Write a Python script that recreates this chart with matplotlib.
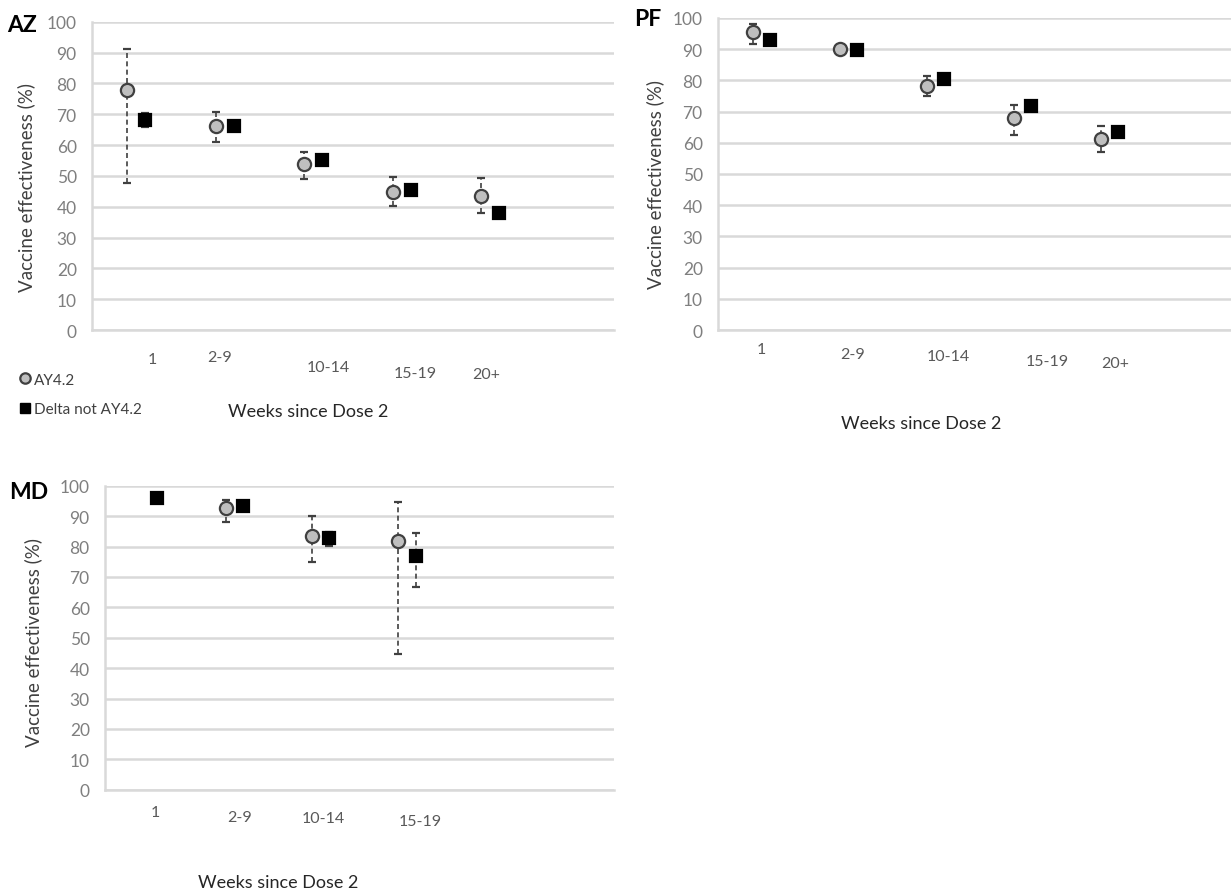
import numpy as np
import matplotlib
matplotlib.use("Agg")
import matplotlib.pyplot as plt
from matplotlib.lines import Line2D

plt.rcParams["font.family"] = ["Lato", "DejaVu Sans"]

# ---- data ----
weeks5 = ["1", "2-9", "10-14", "15-19", "20+"]
weeks4 = ["1", "2-9", "10-14", "15-19"]

az_ay_ve = [77.9, 66.1, 53.7, 44.9, 43.6]
az_ay_lo = [47.8, 61.0, 49.1, 40.2, 38.1]
az_ay_hi = [91.2, 70.6, 57.7, 49.7, 49.4]
az_dl_ve = [68.0, 66.2, 55.3, 45.5, 38.1]
az_dl_lo = [66.0, 65.2, 54.4, 44.6, 37.2]
az_dl_hi = [70.5, 67.2, 56.2, 46.4, 39.0]

pf_ay_ve = [95.4, 90.1, 78.1, 67.8, 61.2]
pf_ay_lo = [91.7, 89.2, 74.9, 62.5, 57.0]
pf_ay_hi = [98.1, 90.9, 81.3, 72.1, 65.5]
pf_dl_ve = [93.0, 89.8, 80.4, 71.9, 63.6]
pf_dl_lo = [92.5, 89.5, 79.9, 71.3, 62.8]
pf_dl_hi = [93.5, 90.1, 80.9, 72.5, 64.4]

md_ay_ve = [np.nan, 92.6, 83.6, 81.9]
md_ay_lo = [np.nan, 88.2, 74.8, 44.6]
md_ay_hi = [np.nan, 95.4, 89.9, 94.5]
md_dl_ve = [95.9, 93.4, 82.8, 77.0]
md_dl_lo = [95.3, 92.8, 80.1, 66.6]
md_dl_hi = [96.6, 94.0, 84.7, 84.4]

GRID = "#D9D9D9"
ERR = "#404040"
W, H = 1231, 895

fig = plt.figure(figsize=(12.31, 8.95), dpi=100)
fig.patch.set_facecolor("white")


def px_axes(left, right, top, bottom):
    return fig.add_axes([left / W, 1 - bottom / H, (right - left) / W, (bottom - top) / H])


def series(ax, x, ve, lo, hi, marker, face, edge, ms):
    ve = np.asarray(ve, float)
    yerr = [ve - np.asarray(lo, float), np.asarray(hi, float) - ve]
    eb = ax.errorbar(x, ve, yerr=yerr, fmt=marker, ms=ms, mfc=face, mec=edge, mew=1.6,
                     ecolor=ERR, elinewidth=1.2, capsize=3, capthick=1.2, zorder=3)
    eb[2][0].set_linestyle((0, (3, 2)))
    return eb


def panel(ax, cats, ay, dl, offs, ylab_xy):
    x = np.arange(len(cats))
    series(ax, x - 0.1, *ay, "o", "#BFBFBF", "#404040", 9.5)
    series(ax, x + 0.1, *dl, "s", "black", "black", 8)
    ax.set_xlim(-0.5, 5.4)
    ax.set_ylim(0, 100)
    ax.set_yticks(range(0, 101, 10))
    ax.set_xticks([])
    ax.grid(axis="y", color=GRID, lw=1.8, zorder=0)
    ax.set_axisbelow(True)
    for s in ["top", "right"]:
        ax.spines[s].set_visible(False)
    ax.spines["left"].set_color(GRID)
    ax.spines["bottom"].set_color(GRID)
    ax.spines["left"].set_linewidth(1.8)
    ax.spines["bottom"].set_linewidth(1.8)
    ax.tick_params(axis="y", length=0, pad=11, labelsize=12.5, labelcolor="#7F7F7F")
    # category labels, placed individually as in the original text boxes
    for i, (c, (dx, dy)) in enumerate(zip(cats, offs)):
        ax.annotate(c, xy=(i, 0), xycoords=("data", "axes fraction"),
                    xytext=(dx, -dy), textcoords="offset pixels",
                    ha="center", va="center", fontsize=11.5, color="#595959")
    ax.set_ylabel("Vaccine effectiveness (%)", fontsize=13.5, color="#404040")
    ax.yaxis.set_label_coords(*ylab_xy)


ax_az = px_axes(92, 614, 22.7, 331)
panel(ax_az, weeks5,
      (az_ay_ve, az_ay_lo, az_ay_hi), (az_dl_ve, az_dl_lo, az_dl_hi),
      [(16, 29), (-5, 27), (15, 37), (14, 43), (-4, 44)], (-0.108, 0.467))

ax_pf = px_axes(718, 1231, 19, 331)
panel(ax_pf, weeks5,
      (pf_ay_ve, pf_ay_lo, pf_ay_hi), (pf_dl_ve, pf_dl_lo, pf_dl_hi),
      [(0, 19), (4, 24), (13, 26), (25, 31), (6, 33)], (-0.105, 0.468))

ax_md = px_axes(105, 614, 486.7, 790.7)
panel(ax_md, weeks4,
      (md_ay_ve, md_ay_lo, md_ay_hi), (md_dl_ve, md_dl_lo, md_dl_hi),
      [(7, 22), (5, 27), (3, 28), (13, 31)], (-0.123, 0.486))

# panel tags
for tag, (px, py) in {"AZ": (22, 25), "PF": (648, 20), "MD": (29, 493)}.items():
    fig.text(px / W, 1 - py / H, tag, ha="center", va="center",
             fontsize=16.5, fontweight="bold", color="black")

# x-axis titles
for (px, py) in [(308, 412), (921, 424), (278, 883)]:
    fig.text(px / W, 1 - py / H, "Weeks since Dose 2", ha="center", va="center",
             fontsize=13, color="#262626")

# legend
handles = [Line2D([], [], ls="", marker="o", ms=7.5, mfc="#BFBFBF", mec="#404040", mew=1.6),
           Line2D([], [], ls="", marker="s", ms=7.5, mfc="black", mec="black")]
fig.legend(handles, ["AY4.2", "Delta not AY4.2"], loc="upper left",
           bbox_to_anchor=(12 / W, 1 - 366 / H), frameon=False, fontsize=11,
           handlelength=0.7, handletextpad=0.25, labelspacing=1.0, borderpad=0,
           labelcolor="#404040")

fig.savefig("out.png", dpi=100, facecolor="white")
